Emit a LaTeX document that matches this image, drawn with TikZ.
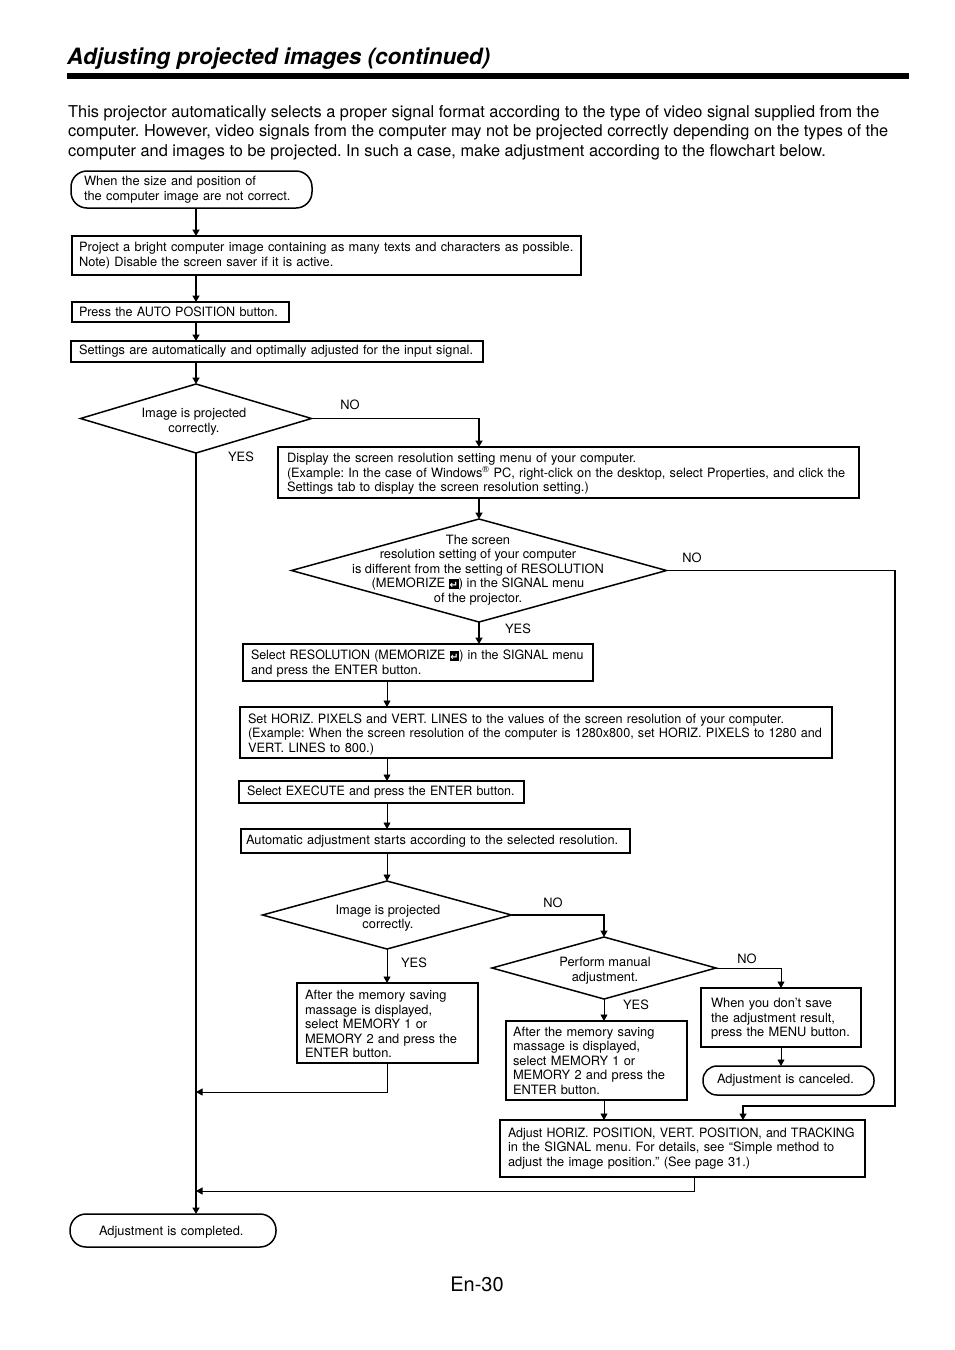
\documentclass[tikz,border=0pt]{standalone}
\usepackage{graphicx}
\usepackage{fontspec}
\setmainfont{TeX Gyre Heros}
\newfontfamily\symfont{DejaVu Sans}
\usetikzlibrary{arrows.meta,shapes.geometric}
\frenchspacing
\newcommand{\retkey}{{\setlength{\fboxsep}{0pt}\raisebox{-1pt}{\colorbox{black}{\makebox[10pt]{\rule{0pt}{10pt}\textcolor{white}{\symfont\bfseries\fontsize{10}{10}\selectfont ↵}}}}}}
\newcommand{\squeeze}[2]{\scalebox{#1}[1]{#2}}
\newcommand{\nudge}{\rule{0pt}{12pt}}
\tikzset{
  txt/.style={font=\fontsize{12.85}{14.5}\selectfont},
  box/.style={txt,draw,rectangle,line width=1.5pt,anchor=north west,align=left,inner ysep=0pt,inner xsep=8pt,outer sep=0pt},
  pill/.style={box,rounded corners=16pt},
  dec/.style={draw,diamond,line width=1.5pt,inner sep=0pt,outer sep=0pt},
  dectxt/.style={txt,align=center,inner sep=0pt},
  lbl/.style={txt,inner sep=0pt},
  arr/.style={line width=1.9pt,-{Triangle[length=6.5pt,width=7pt]}},
  arrmid/.style={line width=1.4pt,-{Triangle[length=6.5pt,width=7pt]}},
  arrthin/.style={line width=0.9pt,-{Triangle[length=6.5pt,width=7pt]}}
}
\begin{document}
\begin{tikzpicture}[x=1pt,y=-1pt]
  \useasboundingbox (0,0) rectangle (954,1350);
  \node[anchor=base west,inner sep=0pt,font=\fontsize{22.5}{26}\selectfont\bfseries\itshape] (title) at (67,64) {Adjusting projected images (continued)};
  \fill (67,73) rectangle (909,79);
  \node[anchor=north west,inner sep=0pt,align=left,font=\fontsize{16.33}{19.5}\selectfont] (intro) at (68,105) {This projector automatically selects a proper signal format according to the type of video signal supplied from the\\
    computer. However, video signals from the computer may not be projected correctly depending on the types of the\\
    computer and images to be projected. In such a case, make adjustment according to the flowchart below.};

  \node[pill,minimum height=37pt,text width=215pt,inner xsep=13pt] (start) at (71,171) {When the size and position of\\the computer image are not correct.};
  \node[box,minimum height=39pt,text width=495pt,inner xsep=7pt] (b1) at (72,236) {Project a bright computer image containing as many texts and characters as possible.\\Note) Disable the screen saver if it is active.};
  \node[box,minimum height=20pt,text width=203pt,inner xsep=7pt] (b2) at (72,302) {\squeeze{.98}{Press the AUTO POSITION button.}};
  \node[box,minimum height=21pt,text width=396pt] (b3) at (71,341) {\squeeze{.995}{Settings are automatically and optimally adjusted for the input signal.}};
  \node[dec,minimum width=231pt,minimum height=69pt] (d1) at (196,418.5) {};
  \node[dectxt] (d1txt) at (194,421.5) {Image is projected\\correctly.};

  \node[box,minimum height=51pt,text width=563pt,inner xsep=9pt] (b4) at (278,447) {\nudge Display the screen resolution setting menu of your computer.\\
    \squeeze{.99}{(Example: In the case of Windows\textsuperscript{\textregistered} PC, right-click on the desktop, select Properties, and click the}\\
    Settings tab to display the screen resolution setting.)};
  \node[dec,minimum width=375pt,minimum height=103pt] (d2) at (479,570.5) {};
  \node[dectxt] (d2txt) at (478,570) {The screen\\resolution setting of your computer\\is different from the setting of RESOLUTION\\(MEMORIZE \retkey) in the SIGNAL menu\\of the projector.};
  \node[box,minimum height=37pt,text width=334pt] (b5) at (243,644) {\squeeze{.968}{\nudge Select RESOLUTION (MEMORIZE \retkey) in the SIGNAL menu}\\and press the ENTER button.};
  \node[box,minimum height=51pt,text width=576pt] (b6) at (240,707) {\squeeze{.982}{\rule{0pt}{13pt}Set HORIZ. PIXELS and VERT. LINES to the values of the screen resolution of your computer.}\\
    \squeeze{.982}{(Example: When the screen resolution of the computer is 1280x800, set HORIZ. PIXELS to 1280 and}\\
    VERT. LINES to 800.)};
  \node[box,minimum height=22pt,text width=269pt] (b7) at (239,781) {\squeeze{.972}{Select EXECUTE and press the ENTER button.}};
  \node[box,minimum height=24pt,text width=379pt,inner xsep=5pt] (b8) at (241,829) {Automatic adjustment starts according to the selected resolution.};

  \node[dec,minimum width=249pt,minimum height=68pt] (d3) at (387,915) {};
  \node[dectxt] (d3txt) at (388,918) {Image is projected\\correctly.};
  \node[box,minimum height=80pt,text width=165pt] (b9) at (297,983) {\nudge After the memory saving\\massage is displayed,\\select MEMORY 1 or\\MEMORY 2 and press the\\ENTER button.};
  \node[dec,minimum width=224pt,minimum height=62pt] (d4) at (604,968) {};
  \node[dectxt] (d4txt) at (605,970.5) {Perform manual\\adjustment.};
  \node[box,minimum height=79pt,text width=167pt,inner xsep=7pt] (b10) at (506,1021) {After the memory saving\\massage is displayed,\\select MEMORY 1 or\\MEMORY 2 and press the\\ENTER button.};
  \node[box,minimum height=59pt,text width=140pt,inner xsep=10pt] (b11) at (701,988) {\rule{0pt}{12.5pt}When you don’t save\\the adjustment result,\\press the MENU button.};
  \node[pill,minimum height=29pt,text width=143pt,inner xsep=14pt,rounded corners=14pt] (end2) at (703,1066) {Adjustment is canceled.};
  \node[box,minimum height=57pt,text width=349pt] (b12) at (500,1120) {\squeeze{.968}{Adjust HORIZ. POSITION, VERT. POSITION, and TRACKING}\\in the SIGNAL menu. For details, see “Simple method to\\adjust the image position.” (See page 31.)};
  \node[pill,minimum height=33pt,text width=148pt,inner xsep=29pt] (end1) at (70,1214) {\rule{0pt}{13pt}Adjustment is completed.};
  \node[anchor=center,inner sep=0pt,font=\fontsize{20}{24}\selectfont] (pageno) at (477,1284) {En-30};

  \coordinate (m1) at (196,1092);
  \coordinate (m2) at (196,1191);
  \coordinate (r1) at (895,1106);
  \coordinate (r2) at (743,1106);
  \coordinate (s1) at (694,1177);

  \draw[arr] (d1.north |- start.south) -- (d1.north |- b1.north);
  \draw[arr] (d1.north |- b1.south) -- (d1.north |- b2.north);
  \draw[arr] (d1.north |- b2.south) -- (d1.north |- b3.north);
  \draw[arr] (d1.north |- b3.south) -- (d1.north);
  \draw[arr] (d1.south) -- (d1.south |- end1.north);
  \draw[arr] (d1.east) -| (d2.north |- b4.north);
  \draw[arr] (d2.north |- b4.south) -- (d2.north);
  \draw[arr] (d2.south) -- (d2.south |- b5.north);
  \draw[arrmid] (d2.east) -| (r1) -- (r2) -- (r2 |- b12.north);
  \draw[arrthin] (d3.north |- b5.south) -- (d3.north |- b6.north);
  \draw[arrthin] (d3.north |- b6.south) -- (d3.north |- b7.north);
  \draw[arrthin] (d3.north |- b7.south) -- (d3.north |- b8.north);
  \draw[arrthin] (d3.north |- b8.south) -- (d3.north);
  \draw[arrthin] (d3.south) -- (d3.south |- b9.north);
  \draw[arrthin] (d3.south |- b9.south) |- (m1);
  \draw[arrmid] (d3.east) -| (d4.north);
  \draw[arrthin] (d4.south) -- (d4.south |- b10.north);
  \draw[arrthin] (d4.south |- b10.south) -- (d4.south |- b12.north);
  \draw[arrthin] (d4.east) -| (b11.north);
  \draw[arrthin] (b11.south) -- (b11.south |- end2.north);
  \draw[arrthin] (s1) |- (m2);

  \node[lbl] (no1) at (350,405) {NO};
  \node[lbl] (yes1) at (241,457) {YES};
  \node[lbl] (no2) at (692,558) {NO};
  \node[lbl] (yes2) at (518,629) {YES};
  \node[lbl] (no3) at (553,903) {NO};
  \node[lbl] (yes3) at (414,963) {YES};
  \node[lbl] (no4) at (747,959) {NO};
  \node[lbl] (yes4) at (636,1005) {YES};
\end{tikzpicture}
\end{document}
